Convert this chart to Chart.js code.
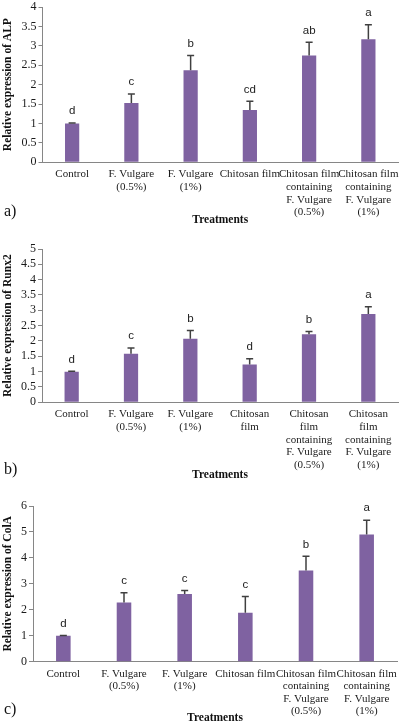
<!DOCTYPE html>
<html><head><meta charset="utf-8">
<script src="https://cdn.jsdelivr.net/npm/chart.js@4/dist/chart.umd.min.js"></script>
<style>
body{margin:0;background:#fff;width:400px;height:725px;position:relative;overflow:hidden}
canvas{position:absolute;left:0}
</style>
</head><body>
<canvas id="ca" width="400" height="240" style="top:0px"></canvas>
<canvas id="cb" width="400" height="244" style="top:240px"></canvas>
<canvas id="cc" width="400" height="241" style="top:484px"></canvas>
<script>
// ---- data ----
const categoriesAC = [
  ["Control"], ["F. Vulgare","(0.5%)"], ["F. Vulgare","(1%)"], ["Chitosan film"],
  ["Chitosan film","containing","F. Vulgare","(0.5%)"], ["Chitosan film","containing","F. Vulgare","(1%)"]
];
const categoriesB = [
  ["Control"], ["F. Vulgare","(0.5%)"], ["F. Vulgare","(1%)"], ["Chitosan","film"],
  ["Chitosan","film","containing","F. Vulgare","(0.5%)"], ["Chitosan","film","containing","F. Vulgare","(1%)"]
];
const alpValues   = [1.00, 1.53, 2.37, 1.35, 2.75, 3.17];
const alpErrors   = [0.01, 0.23, 0.38, 0.22, 0.34, 0.37];
const alpLetters  = ["d", "c", "b", "cd", "ab", "a"];
const runxValues  = [1.00, 1.58, 2.07, 1.23, 2.22, 2.88];
const runxErrors  = [0.01, 0.19, 0.27, 0.19, 0.09, 0.24];
const runxLetters = ["d", "c", "b", "d", "b", "a"];
const colaValues  = [1.00, 2.28, 2.61, 1.89, 3.51, 4.90];
const colaErrors  = [0.01, 0.38, 0.13, 0.62, 0.55, 0.55];
const colaLetters = ["d", "c", "c", "c", "b", "a"];
const xTitle = "Treatments";

Chart.defaults.font.family = '"Liberation Serif", "Times New Roman", serif';
Chart.defaults.color = '#1a1a1a';

const annot = {
  id: 'annot',
  afterDatasetsDraw(chart, args, o) {
    const ctx = chart.ctx, meta = chart.getDatasetMeta(0), y = chart.scales.y;
    const vals = chart.data.datasets[0].data;
    ctx.save();
    meta.data.forEach((bar, i) => {
      const x = bar.x;
      const top = y.getPixelForValue(vals[i]);
      const cap = y.getPixelForValue(vals[i] + o.errors[i]);
      ctx.strokeStyle = '#404040'; ctx.lineWidth = 1.5;
      ctx.beginPath();
      ctx.moveTo(x, top); ctx.lineTo(x, cap);
      ctx.moveTo(x - 3.5, cap); ctx.lineTo(x + 3.5, cap);
      ctx.stroke();
      ctx.fillStyle = '#222';
      ctx.font = '11.5px "Liberation Sans", Arial, sans-serif';
      ctx.textAlign = 'center'; ctx.textBaseline = 'middle';
      ctx.fillText(o.letters[i], x, cap - 12);
    });
    ctx.fillStyle = '#111';
    ctx.font = '16px "Liberation Serif", serif';
    ctx.textAlign = 'left'; ctx.textBaseline = 'middle';
    ctx.fillText(o.panel, 4, o.panelY);
    ctx.restore();
  }
};

function makeChart(id, labels, values, errors, letters, yTitle, yMax, yStep, L) {
  return new Chart(document.getElementById(id), {
    type: 'bar',
    data: { labels: labels, datasets: [{
      data: values, backgroundColor: '#7F62A1', borderWidth: 0,
      barPercentage: 0.24, categoryPercentage: 1.0
    }]},
    plugins: [annot],
    options: {
      responsive: false, animation: false, devicePixelRatio: 1,
      layout: { padding: { left: 0, right: 400 - L.right, top: L.top, bottom: 0 } },
      plugins: {
        legend: { display: false }, tooltip: { enabled: false },
        annot: { errors: errors, letters: letters, panel: L.panel, panelY: L.panelY }
      },
      scales: {
        x: {
          offset: true,
          grid: { display: true, drawOnChartArea: false, drawTicks: false },
          border: { display: true, color: '#868686', width: 1 },
          ticks: { autoSkip: false, maxRotation: 0, minRotation: 0, padding: 6,
                   font: { size: 11, lineHeight: 1.14 }, color: '#1a1a1a' },
          title: { display: true, text: xTitle, font: { size: 11.5, weight: 'bold' },
                   padding: { top: 0, bottom: L.titlePad }, color: '#111' },
          afterFit(s) { s.height = L.height - L.bottom; s.paddingLeft = 0; s.paddingRight = 0; }
        },
        y: {
          min: 0, max: yMax,
          grid: { display: true, drawOnChartArea: false, drawTicks: true, tickLength: 4, color: '#868686' },
          border: { display: true, color: '#868686', width: 1 },
          ticks: { stepSize: yStep, autoSkip: false, maxTicksLimit: 20, padding: 2,
                   font: { size: 12, lineHeight: 1 }, color: '#1a1a1a',
                   callback: v => String(Math.round(v * 100) / 100) },
          title: { display: true, text: yTitle, font: { size: 11.5, weight: 'bold' },
                   padding: { top: 1, bottom: 0 }, color: '#111' },
          afterFit(s) { s.width = L.left; s.paddingTop = 0; s.paddingBottom = 0; }
        }
      }
    }
  });
}

makeChart('ca', categoriesAC, alpValues, alpErrors, alpLetters, 'Relative expression of ALP', 4, 0.5,
  { left: 42.5, right: 398, top: 7, bottom: 162.3, height: 240, titlePad: 13, panel: 'a)', panelY: 212 });
makeChart('cb', categoriesB, runxValues, runxErrors, runxLetters, 'Relative expression of Runx2', 5, 0.5,
  { left: 42, right: 398, top: 9, bottom: 162.3, height: 244, titlePad: 2, panel: 'b)', panelY: 230 });
makeChart('cc', categoriesAC, colaValues, colaErrors, colaLetters, 'Relative expression of ColA', 6, 1,
  { left: 33, right: 397, top: 22, bottom: 177.7, height: 241, titlePad: 0, panel: 'c)', panelY: 226 });
</script>
</body></html>
